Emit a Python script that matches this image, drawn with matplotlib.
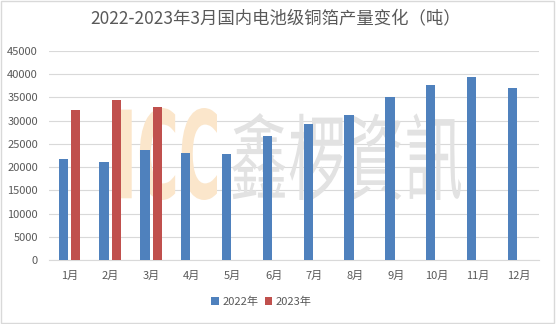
import numpy as np
import matplotlib
matplotlib.use("Agg")
import matplotlib.pyplot as plt
from matplotlib.patches import Rectangle, PathPatch
from matplotlib.textpath import TextPath
from matplotlib.font_manager import FontProperties
from matplotlib.transforms import Affine2D

plt.rcParams["font.family"] = ["Noto Sans CJK SC", "DejaVu Sans"]

months = ["1月", "2月", "3月", "4月", "5月", "6月",
          "7月", "8月", "9月", "10月", "11月", "12月"]
output_2022 = [21800, 21100, 23600, 23100, 22900, 26600,
               29200, 31300, 35000, 37600, 39300, 37000]
output_2023 = [32400, 34400, 32900]
series_names = ["2022年", "2023年"]
title = "2022-2023年3月国内电池级铜箔产量变化（吨）"

blue = "#4f81bd"
red = "#c0504d"
text_gray = "#595959"
W, H = 556, 324


def watermark(ax, text, box, color, font):
    # stretch a text outline into a pixel box (x0, y0, x1, y1), top-left origin
    path = TextPath((0, 0), text, size=100, prop=font)
    ext = path.get_extents()
    x0, y0, x1, y1 = box
    sx = (x1 - x0) / W / ext.width
    sy = (y1 - y0) / H / ext.height
    tr = (Affine2D().translate(-ext.x0, -ext.y0).scale(sx, sy)
          .translate(x0 / W, 1 - y1 / H))
    patch = PathPatch(tr.transform_path(path), facecolor=color, edgecolor="none",
                      transform=ax.figure.transFigure, zorder=1, clip_on=False)
    ax.add_patch(patch)


fig = plt.figure(figsize=(5.56, 3.24), dpi=100)
ax = fig.add_axes([49 / W, 1 - 260 / H, 490 / W, 209 / H])

watermark(ax, "ICC", (121, 108, 217, 200), "#fbe6cb",
          FontProperties(family="DejaVu Sans", weight="bold"))
watermark(ax, "鑫椤資訊", (232, 113, 461, 200), "#e2e2e2",
          FontProperties(family="Noto Sans CJK SC", weight="light"))
ax.text(473 / W, 1 - 120 / H, "®", transform=fig.transFigure, fontsize=9,
        color="#dddddd", ha="center", va="center", zorder=1)

x = np.arange(len(months))
w = 0.23
ax.bar(x - 0.15, output_2022, w, color=blue, label=series_names[0], zorder=3)
ax.bar(x[:len(output_2023)] + 0.15, output_2023, w, color=red,
       label=series_names[1], zorder=3)

ax.set_xlim(-0.5, len(months) - 0.5)
ax.set_ylim(0, 45000)
ax.set_yticks(np.arange(0, 45001, 5000))
ax.set_xticks(x)
ax.set_xticklabels(months)
ax.yaxis.grid(True, color="#d9d9d9", linewidth=0.8, zorder=0)
ax.set_axisbelow(True)
ax.patch.set_alpha(0)
for s in ["top", "right", "left"]:
    ax.spines[s].set_visible(False)
ax.spines["bottom"].set_color("#d9d9d9")
ax.tick_params(axis="both", length=0, labelsize=8, colors=text_gray)
ax.tick_params(axis="x", pad=8)
ax.tick_params(axis="y", pad=8)

fig.text(0.495, 1 - 18 / H, title, ha="center", va="center", fontsize=12.5,
         color=text_gray)

leg = fig.legend(loc="center", bbox_to_anchor=(0.47, 1 - 302 / H), ncol=2,
                 frameon=False, fontsize=8, handlelength=0.7, handleheight=0.7,
                 handletextpad=0.3, columnspacing=0.6)
for t in leg.get_texts():
    t.set_color(text_gray)

fig.patches.append(Rectangle((0.002, 0.003), 0.994, 0.994, transform=fig.transFigure,
                             fill=False, edgecolor="#d9d9d9", linewidth=1))

fig.savefig("out.png", dpi=100)
